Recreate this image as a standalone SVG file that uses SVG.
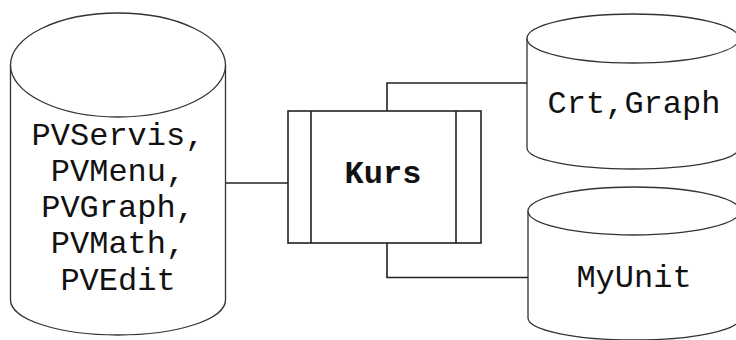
<svg xmlns="http://www.w3.org/2000/svg" width="736" height="340" viewBox="0 0 736 340">
<style>
.cyl{fill:#fff;stroke:#333;stroke-width:1.3}
.box{fill:#fff;stroke:#222;stroke-width:1.6}
.con{fill:none;stroke:#222;stroke-width:1.6}
.t{font-family:"Liberation Mono","Courier New",monospace;font-size:32px;fill:#111;text-anchor:middle}
.b{font-weight:bold}
</style>
<rect width="736" height="340" fill="#fff"/>
<g id="connectors">
<path class="con" d="M225.5,183 H288"/>
<path class="con" d="M387,111 V83 H527"/>
<path class="con" d="M387,243 V277.5 H528"/>
</g>
<g id="pvunits">
<path class="cyl" d="M10.5,65 V300 A107.5,35 0 0 0 225.5,300 V65"/>
<ellipse class="cyl" cx="118" cy="65" rx="107.5" ry="52"/>
<text class="t" x="118" y="145">PVServis,</text>
<text class="t" x="118" y="181">PVMenu,</text>
<text class="t" x="118" y="217">PVGraph,</text>
<text class="t" x="118" y="253">PVMath,</text>
<text class="t" x="118" y="290">PVEdit</text>
</g>
<g id="kurs">
<rect class="box" x="288" y="111" width="193" height="132"/>
<line class="box" x1="311" y1="111" x2="311" y2="243"/>
<line class="box" x1="456" y1="111" x2="456" y2="243"/>
<text class="t b" x="383" y="183">Kurs</text>
</g>
<g id="crtgraph">
<path class="cyl" d="M527,38.5 V148 A106,21 0 0 0 739,148 V38.5"/>
<ellipse class="cyl" cx="633" cy="38.5" rx="106" ry="24.5"/>
<text class="t" x="634" y="113">Crt,Graph</text>
</g>
<g id="myunit">
<path class="cyl" d="M528,211 V318 A106,22 0 0 0 740,318 V211"/>
<ellipse class="cyl" cx="634" cy="211" rx="106" ry="24"/>
<text class="t" x="634" y="287">MyUnit</text>
</g>
</svg>
